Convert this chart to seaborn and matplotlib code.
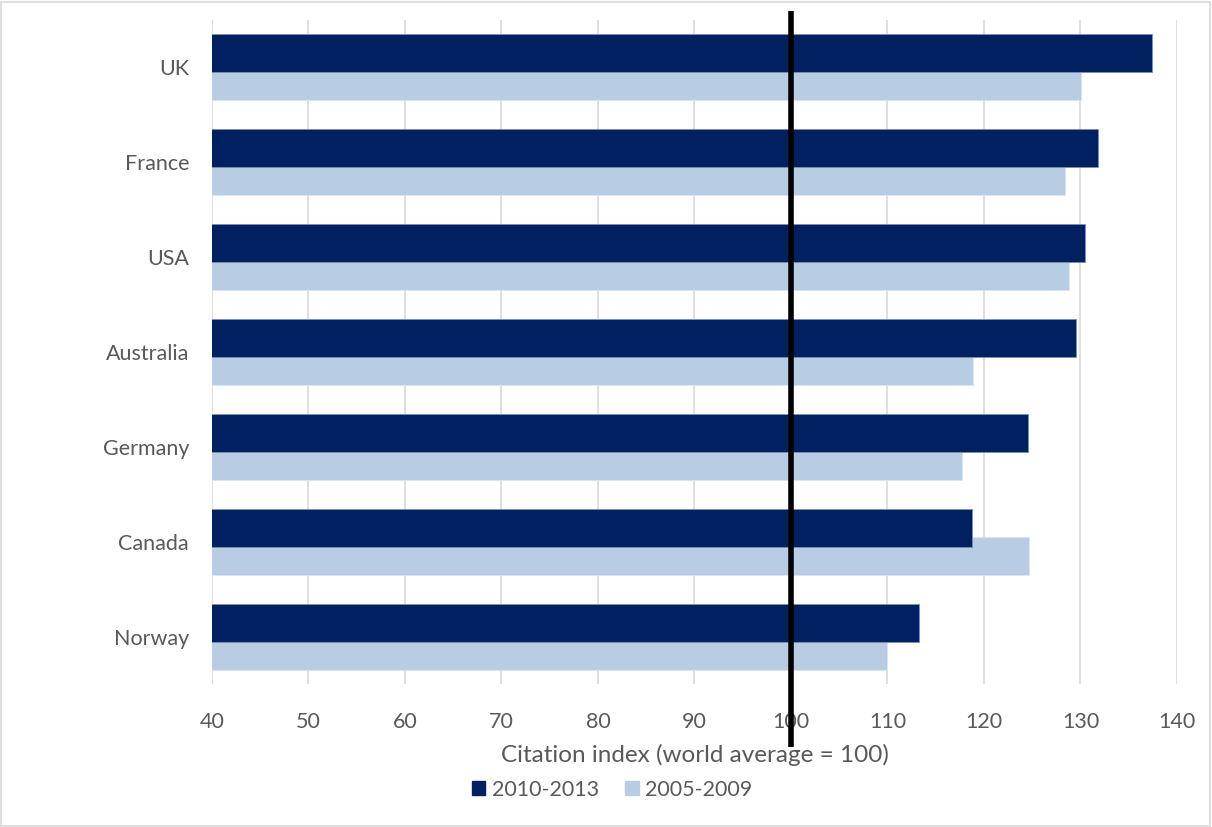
import numpy as np
import pandas as pd
import matplotlib
matplotlib.use("Agg")
import matplotlib.pyplot as plt
import matplotlib.transforms as mtransforms
from matplotlib.patches import Rectangle, Patch
import seaborn as sns

# ── data ──────────────────────────────────────────────
countries = ["UK", "France", "USA", "Australia", "Germany", "Canada", "Norway"]
recent = [137.4, 131.8, 130.5, 129.5, 124.6, 118.8, 113.3]   # 2010-2013
earlier = [130.1, 128.4, 128.8, 118.9, 117.7, 124.7, 110.0]  # 2005-2009
series_names = ["2010-2013", "2005-2009"]
x_ticks = [40, 50, 60, 70, 80, 90, 100, 110, 120, 130, 140]
world_avg = 100

DARK = "#002060"
LIGHT = "#B8CCE4"
TEXT = "#595959"
GRID = "#D9D9D9"

sns.set_theme(style="white")
plt.rcParams["font.family"] = ["Lato", "DejaVu Sans"]

pos = np.arange(len(countries))
df_recent = pd.DataFrame({"value": recent, "ypos": pos - 0.148})
df_earlier = pd.DataFrame({"value": earlier, "ypos": pos + 0.148})

fig = plt.figure(figsize=(12.12, 8.27), dpi=100)
ax = fig.add_axes([0.1749, 0.1729, 0.7962, 0.8029])

# light series first so the dark one sits on top of the overlap
sns.barplot(data=df_earlier, x="value", y="ypos", orient="h", native_scale=True,
            width=0.40, color=LIGHT, saturation=1, edgecolor="#DCE6F1",
            linewidth=0.6, ax=ax, zorder=2)
sns.barplot(data=df_recent, x="value", y="ypos", orient="h", native_scale=True,
            width=0.40, color=DARK, saturation=1, edgecolor="#8090B0",
            linewidth=0.6, ax=ax, zorder=3)

ax.set_xlim(x_ticks[0], x_ticks[-1])
ax.set_ylim(6.5, -0.5)
ax.set_xticks(x_ticks)
ax.set_yticks(pos)
ax.set_yticklabels(countries)
ax.tick_params(axis="both", length=0, labelsize=15.5, labelcolor=TEXT)
ax.tick_params(axis="x", pad=20)
ax.tick_params(axis="y", pad=16.5)
ax.grid(axis="x", color=GRID, linewidth=1.2, zorder=0)
ax.grid(axis="y", visible=False)
ax.set_axisbelow(True)
for s in ax.spines.values():
    s.set_visible(False)

ax.set_xlabel("Citation index (world average = 100)", fontsize=17.5,
              color=TEXT, labelpad=9)
ax.set_ylabel("")

# world average reference line, running past the plot area
trans = mtransforms.blended_transform_factory(ax.transData, ax.transAxes)
ax.plot([world_avg, world_avg], [1.0136, -0.095], transform=trans,
        color="black", linewidth=4, clip_on=False, zorder=5,
        solid_capstyle="butt")

handles = [Patch(facecolor=DARK, edgecolor=DARK),
           Patch(facecolor=LIGHT, edgecolor=LIGHT)]
fig.legend(handles, series_names, loc="center", bbox_to_anchor=(0.505, 0.045),
           ncol=2, frameon=False, fontsize=15.5, labelcolor=TEXT,
           handlelength=0.65, handleheight=0.65, handletextpad=0.3,
           columnspacing=1.2)

fig.patches.append(Rectangle((0.001, 0.001), 0.997, 0.996, transform=fig.transFigure,
                             facecolor="none", edgecolor=GRID, linewidth=1.2))

fig.savefig("out.png", dpi=100)
